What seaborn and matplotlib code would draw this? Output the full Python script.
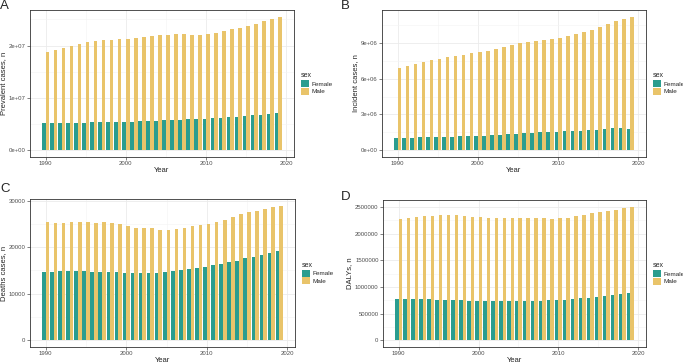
import matplotlib
matplotlib.use("Agg")
import matplotlib.pyplot as plt
from matplotlib.ticker import FixedLocator
import seaborn as sns
import pandas as pd

years = list(range(1990, 2020))

# A: prevalent cases
prev_female = [5.19e6, 5.20e6, 5.22e6, 5.25e6, 5.28e6, 5.30e6, 5.33e6, 5.36e6, 5.39e6, 5.42e6,
               5.46e6, 5.50e6, 5.54e6, 5.60e6, 5.66e6, 5.72e6, 5.78e6, 5.84e6, 5.90e6, 5.96e6,
               6.02e6, 6.10e6, 6.20e6, 6.30e6, 6.40e6, 6.50e6, 6.65e6, 6.80e6, 6.95e6, 7.03e6]
prev_male = [18.73e6, 19.18e6, 19.56e6, 20.00e6, 20.32e6, 20.63e6, 20.89e6, 21.01e6, 21.08e6, 21.20e6,
             21.27e6, 21.39e6, 21.58e6, 21.84e6, 21.96e6, 22.09e6, 22.15e6, 22.15e6, 22.09e6, 22.09e6,
             22.22e6, 22.47e6, 22.78e6, 23.10e6, 23.42e6, 23.73e6, 24.11e6, 24.62e6, 25.06e6, 25.51e6]

# B: incident cases
inc_female = [1.05e6, 1.06e6, 1.07e6, 1.08e6, 1.09e6, 1.10e6, 1.12e6, 1.14e6, 1.16e6, 1.18e6,
              1.20e6, 1.22e6, 1.25e6, 1.30e6, 1.34e6, 1.38e6, 1.42e6, 1.46e6, 1.50e6, 1.53e6,
              1.56e6, 1.58e6, 1.61e6, 1.65e6, 1.68e6, 1.72e6, 1.78e6, 1.84e6, 1.83e6, 1.80e6]
inc_male = [6.89e6, 7.06e6, 7.22e6, 7.39e6, 7.53e6, 7.64e6, 7.78e6, 7.89e6, 8.00e6, 8.11e6,
            8.22e6, 8.33e6, 8.47e6, 8.64e6, 8.81e6, 8.97e6, 9.06e6, 9.14e6, 9.22e6, 9.31e6,
            9.42e6, 9.58e6, 9.75e6, 9.92e6, 10.11e6, 10.31e6, 10.56e6, 10.83e6, 11.03e6, 11.19e6]

# C: deaths
death_female = [14680, 14680, 14820, 14890, 14890, 14820, 14750, 14680, 14680, 14600,
                14460, 14460, 14460, 14460, 14530, 14680, 14820, 15110, 15400, 15540,
                15830, 16190, 16400, 16760, 17120, 17630, 17990, 18350, 18780, 19210]
death_male = [25400, 25250, 25250, 25470, 25400, 25320, 25250, 25400, 25100, 24900,
              24460, 24240, 24100, 24030, 23810, 23810, 23960, 24100, 24460, 24680,
              24960, 25400, 25900, 26470, 27120, 27550, 27840, 28200, 28560, 28920]

# D: DALYs
daly_female = [778000, 778000, 778000, 778000, 772000, 765000, 765000, 759000, 753000, 747000,
               747000, 740000, 740000, 734000, 734000, 740000, 740000, 747000, 747000, 753000,
               759000, 765000, 778000, 790000, 803000, 815000, 840000, 859000, 871000, 884000]
daly_male = [2284000, 2296000, 2315000, 2334000, 2340000, 2346000, 2346000, 2346000, 2327000, 2315000,
             2309000, 2302000, 2296000, 2296000, 2296000, 2296000, 2296000, 2290000, 2290000, 2284000,
             2290000, 2302000, 2327000, 2358000, 2383000, 2408000, 2427000, 2452000, 2477000, 2508000]

palette = {"Female": "#2A9D8F", "Male": "#E9C46A"}

panels = [
    ("A", "Prevalent cases, n", prev_female, prev_male, [0, 1e7, 2e7], ["0e+00", "1e+07", "2e+07"]),
    ("B", "Incident cases, n", inc_female, inc_male, [0, 3e6, 6e6, 9e6], ["0e+00", "3e+06", "6e+06", "9e+06"]),
    ("C", "Deaths cases, n", death_female, death_male, [0, 10000, 20000, 30000], ["0", "10000", "20000", "30000"]),
    ("D", "DALYs, n", daly_female, daly_male, [0, 500000, 1000000, 1500000, 2000000, 2500000],
     ["0", "500000", "1000000", "1500000", "2000000", "2500000"]),
]

# axes boxes in pixels: left, right, top, bottom ; panel letter x, y(top)
W, H = 683, 363
boxes = [(30, 294, 10, 157), (382, 646, 10, 157), (30, 295, 199, 347), (383, 646, 200, 347)]
letters_at = [(0, 0), (341, 0), (0, 183), (341, 191)]

sns.set_theme(style="whitegrid")
plt.rcParams['font.family'] = ['Liberation Sans', 'DejaVu Sans']

fig = plt.figure(figsize=(W / 100, H / 100), dpi=100)

for (letter, ylab, fem, mal, yt, ytl), (l, r, t, b), (lx, ly) in zip(panels, boxes, letters_at):
    ax = fig.add_axes([l / W, 1 - b / H, (r - l) / W, (b - t) / H])
    df = pd.DataFrame({
        "Year": years * 2,
        "value": fem + mal,
        "sex": ["Female"] * len(years) + ["Male"] * len(years),
    })
    sns.barplot(data=df, x="Year", y="value", hue="sex", palette=palette,
                native_scale=True, width=0.9, gap=0, ax=ax, saturation=1,
                linewidth=0, errorbar=None)
    ymax = max(mal + fem)
    ax.set_xlim(1988.05, 2020.95)
    ax.set_ylim(-0.05 * ymax, ymax * 1.05)
    ax.xaxis.set_major_locator(FixedLocator([1990, 2000, 2010, 2020]))
    ax.set_xticklabels(["1990", "2000", "2010", "2020"])
    ax.xaxis.set_minor_locator(FixedLocator([1995, 2005, 2015]))
    ax.yaxis.set_major_locator(FixedLocator(yt))
    ax.set_yticklabels(ytl)
    step = yt[1] - yt[0]
    ax.yaxis.set_minor_locator(FixedLocator([v + step / 2 for v in yt]))
    ax.grid(which="major", color="#EBEBEB", linewidth=0.6)
    ax.grid(which="minor", color="#F4F4F4", linewidth=0.4)
    ax.set_axisbelow(True)
    for s in ax.spines.values():
        s.set_color("#333333")
        s.set_linewidth(0.6)
    ax.tick_params(which="major", axis="both", labelsize=4.3, colors="#4D4D4D",
                   length=2, width=0.5, pad=1.2, direction="out", bottom=True, left=True)
    ax.tick_params(which="minor", length=0)
    ax.set_xlabel("Year", fontsize=5.5, labelpad=0.5)
    ax.set_ylabel(ylab, fontsize=5.5, labelpad=1.5)
    leg = ax.legend(title="sex", loc="center left", bbox_to_anchor=(1.015, 0.5),
                    frameon=False, fontsize=4.6, title_fontsize=5,
                    handlelength=1.2, handleheight=1.2, handletextpad=0.4,
                    labelspacing=0.15, borderpad=0)
    leg._legend_box.align = "left"
    fig.text(lx / W, 1 - ly / H, letter, fontsize=9.5, ha="left", va="top")

fig.savefig("out.png", dpi=100)
